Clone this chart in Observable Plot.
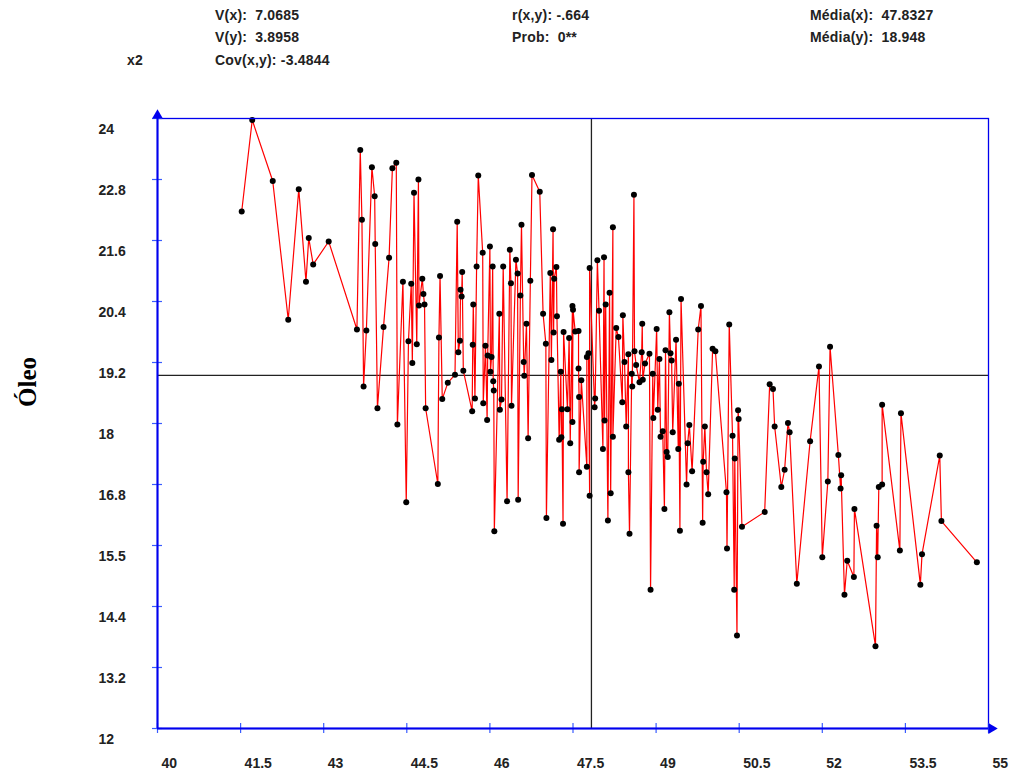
<!DOCTYPE html>
<html>
<head>
<meta charset="utf-8">
<script src="https://cdn.jsdelivr.net/npm/d3@7"></script>
<script src="https://cdn.jsdelivr.net/npm/@observablehq/plot@0.6"></script>
<style>
  body { margin: 0; background: #fff; }
  #wrap { position: relative; width: 1015px; height: 778px; overflow: hidden; }
  .hdr { position: absolute; font-family: "Liberation Sans", Arial, sans-serif; font-weight: bold; font-size: 14px; letter-spacing: 0.2px; color: #222; white-space: pre; line-height: 1; }
  #ytitle { position: absolute; left: 28px; top: 382px; transform: translate(-50%, -50%) rotate(-90deg); font-family: "Liberation Serif", "Times New Roman", serif; font-weight: bold; font-size: 25px; color: #000; }
  #chart { position: absolute; left: 0; top: 0; }
</style>
</head>
<body>
<div id="wrap">
  <div id="chart"></div>
  <div id="ytitle">Óleo</div>
</div>
<script>
// ---- data ----
const xValues = [
41.52,41.71,42.08,42.36,42.55,42.68,42.73,42.81,43.09,43.60,
43.66,43.69,43.72,43.77,43.87,43.92,43.93,43.97,44.08,44.18,
44.24,44.31,44.33,44.43,44.49,44.53,44.58,44.60,44.63,44.68,
44.71,44.72,44.78,44.80,44.82,44.84,45.06,45.08,45.10,45.14,
45.24,45.37,45.41,45.43,45.46,45.47,45.49,45.50,45.52,45.68,
45.69,45.70,45.73,45.76,45.79,45.87,45.88,45.92,45.95,45.96,
46.00,46.01,46.03,46.05,46.06,46.07,46.08,46.17,46.18,46.21,
46.24,46.31,46.36,46.38,46.39,46.47,46.50,46.51,46.55,46.57,
46.61,46.62,46.66,46.69,46.73,46.76,46.90,46.96,47.01,47.02,
47.09,47.11,47.14,47.15,47.16,47.20,47.21,47.25,47.28,47.29,
47.30,47.32,47.33,47.40,47.43,47.45,47.49,47.49,47.50,47.54,
47.60,47.60,47.61,47.61,47.65,47.75,47.75,47.78,47.80,47.80,
47.89,47.90,47.94,47.97,48.04,48.06,48.07,48.09,48.13,48.16,
48.18,48.22,48.22,48.28,48.32,48.39,48.40,48.43,48.46,48.50,
48.50,48.52,48.56,48.57,48.60,48.61,48.64,48.70,48.74,48.75,
48.76,48.80,48.88,48.90,48.94,48.95,49.01,49.03,49.06,49.08,
49.12,49.15,49.17,49.19,49.21,49.24,49.26,49.28,49.30,49.36,
49.40,49.41,49.43,49.45,49.55,49.57,49.60,49.65,49.76,49.81,
49.84,49.85,49.88,49.91,49.94,50.02,50.07,50.27,50.28,50.32,
50.38,50.41,50.42,50.46,50.48,50.49,50.55,50.96,51.05,51.11,
51.14,51.26,51.32,51.38,51.41,51.54,51.78,51.94,52.00,52.10,
52.14,52.29,52.33,52.34,52.40,52.45,52.57,52.58,52.96,52.98,
53.00,53.02,53.08,53.08,53.40,53.42,53.77,53.80,54.12,54.15,
54.79
];
const yValues = [
22.17,23.97,22.77,20.04,22.61,20.79,21.65,21.13,21.58,19.85,
23.38,22.01,18.73,19.83,23.04,22.47,21.53,18.30,19.90,21.26,
23.02,23.13,17.98,20.79,16.45,19.62,20.75,19.19,22.54,19.56,
22.80,20.32,20.85,20.55,20.34,18.30,16.81,19.69,20.90,18.48,
18.80,18.96,21.97,19.40,19.63,20.63,20.50,20.98,19.04,18.24,
19.55,20.34,18.49,21.09,22.88,21.36,18.40,19.53,18.07,19.34,
21.48,19.02,19.31,21.09,18.83,18.65,15.88,20.16,18.27,18.47,
21.09,16.47,21.42,20.76,18.35,21.22,20.95,16.50,20.52,21.91,
19.21,18.94,19.96,17.71,20.81,22.89,22.56,20.16,19.57,16.14,
20.96,19.25,21.82,19.79,20.85,21.08,20.11,17.68,19.02,17.73,
18.28,16.03,19.80,18.28,19.68,17.61,20.31,18.03,20.24,19.81,
19.82,19.08,18.52,17.04,18.85,17.15,19.31,19.38,16.58,21.06,
18.32,18.49,21.21,20.22,17.50,21.27,18.06,20.34,16.09,20.57,
16.63,21.86,17.74,19.88,19.70,18.42,20.13,19.21,17.94,19.36,
17.04,15.83,18.98,18.73,22.50,19.42,19.15,18.81,19.40,19.96,
18.86,19.18,19.37,14.73,18.98,18.11,19.86,18.27,19.27,17.74,
17.85,16.32,19.44,17.44,17.34,20.19,19.38,19.24,17.83,19.65,
17.50,18.78,15.89,20.45,16.80,17.61,17.97,17.06,19.85,20.31,
16.05,17.25,17.94,17.04,16.61,19.47,19.42,16.65,15.54,19.95,
17.76,14.73,17.31,13.83,18.26,18.09,15.97,16.26,18.77,18.68,
17.94,16.75,17.09,18.01,17.83,14.85,17.65,19.12,15.37,16.86,
19.51,17.38,16.72,16.98,14.63,15.30,14.98,16.32,13.62,15.99,
15.37,16.75,16.80,18.37,15.50,18.20,14.83,15.43,17.37,16.08,
15.27
];
const meanX = 47.8327;
const meanY = 18.948;
const xTicks = [40, 41.5, 43, 44.5, 46, 47.5, 49, 50.5, 52, 53.5, 55];
const xTickLabels = ["40", "41.5", "43", "44.5", "46", "47.5", "49", "50.5", "52", "53.5", "55"];
const yTicks = [12, 13.2, 14.4, 15.6, 16.8, 18, 19.2, 20.4, 21.6, 22.8, 24];
const yTickLabels = ["12", "13.2", "14.4", "15.5", "16.8", "18", "19.2", "20.4", "21.6", "22.8", "24"];
const statsLeft = ["V(x):  7.0685", "V(y):  3.8958", "Cov(x,y): -3.4844"];
const statsMid = ["r(x,y): -.664", "Prob:  0**"];
const statsRight = ["Média(x):  47.8327", "Média(y):  18.948"];
const seriesName = "x2";

// ---- build table ----
const points = d3.sort(xValues.map((x, i) => ({x, y: yValues[i]})), d => d.x);

const plot = Plot.plot({
  width: 1015,
  height: 778,
  marginLeft: 157,
  marginRight: 27,
  marginTop: 118,
  marginBottom: 50,
  x: {domain: [40, 55], axis: null},
  y: {domain: [12, 24], axis: null},
  style: {background: "transparent", overflow: "visible"},
  marks: [
    Plot.ruleX([meanX], {stroke: "#222", strokeWidth: 1.3}),
    Plot.ruleY([meanY], {stroke: "#222", strokeWidth: 1.3}),
    Plot.line(points, {x: "x", y: "y", stroke: "#ff0000", strokeWidth: 1.2}),
    Plot.dot(points, {x: "x", y: "y", r: 3, fill: "#000", stroke: null}),
    Plot.frame({stroke: "#0000ee", strokeWidth: 1.3}),
    Plot.axisY(yTicks, {anchor: "left", tickSize: 10, dx: 5, stroke: "#3a5cff", strokeWidth: 1.2, tickFormat: () => "", label: null}),
    Plot.axisX(xTicks, {anchor: "bottom", tickSize: 10, dy: -5, stroke: "#3a5cff", strokeWidth: 1.2, tickFormat: () => "", label: null}),
    Plot.ruleX([40], {stroke: "#0000ee", strokeWidth: 2}),
    Plot.ruleY([12], {stroke: "#0000ee", strokeWidth: 2}),
    Plot.dot([{x: 40, y: 24}], {x: "x", y: "y", symbol: "triangle", r: 4, fill: "#0000ee", dy: -3}),
    Plot.dot([{x: 55, y: 12}], {x: "x", y: "y", symbol: "triangle", r: 4, fill: "#0000ee", rotate: 90, dx: 3}),
    Plot.text(yTicks, {x: () => 40, y: d => d, text: (d, i) => yTickLabels[i], textAnchor: "start", dx: -59, dy: 11,
      fontSize: 14, fontWeight: "bold", fill: "#222", fontFamily: "Liberation Sans, Arial, sans-serif"}),
    Plot.text(xTicks, {x: d => d, y: () => 12, text: (d, i) => xTickLabels[i], textAnchor: "start", dx: 4, dy: 35,
      fontSize: 14, fontWeight: "bold", fill: "#222", fontFamily: "Liberation Sans, Arial, sans-serif"})
  ]
});
document.getElementById("chart").appendChild(plot);

// ---- header statistics ----
const wrap = document.getElementById("wrap");
function addText(txt, left, top) {
  const d = document.createElement("div");
  d.className = "hdr";
  d.textContent = txt;
  d.style.left = left + "px";
  d.style.top = top + "px";
  wrap.appendChild(d);
}
const rows = [8, 30, 53];
statsLeft.forEach((t, i) => addText(t, 215, rows[i]));
statsMid.forEach((t, i) => addText(t, 512, rows[i]));
statsRight.forEach((t, i) => addText(t, 810, rows[i]));
addText(seriesName, 127, rows[2]);
</script>
</body>
</html>
